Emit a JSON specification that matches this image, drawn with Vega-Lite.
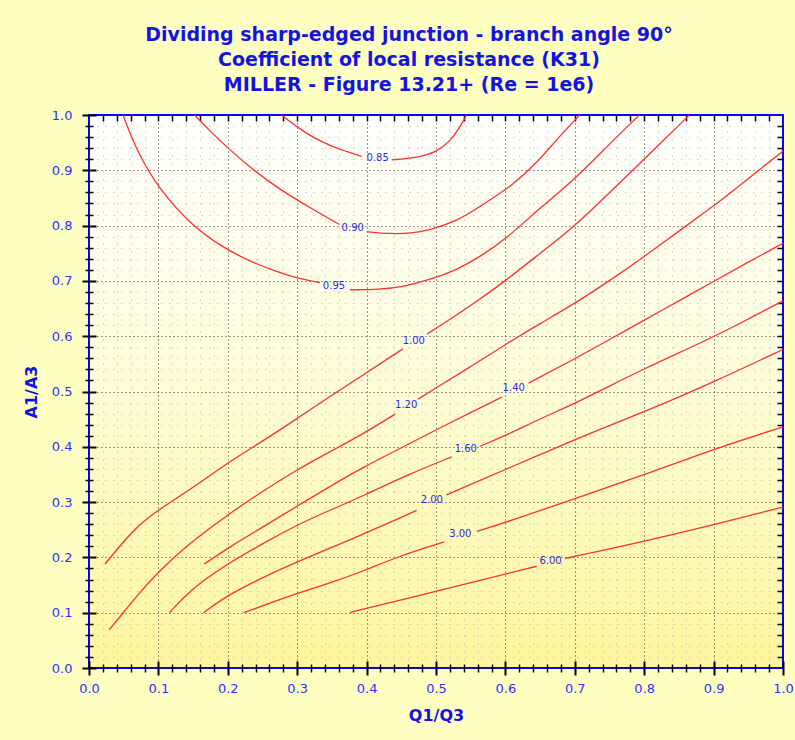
{
  "$schema": "https://vega.github.io/schema/vega-lite/v6.json",
  "autosize": "none",
  "width": 694,
  "height": 553,
  "padding": {"left": 89, "top": 115, "right": 12, "bottom": 72},
  "background": "#FFFFC2",
  "view": {
    "stroke": "#0000FF",
    "strokeWidth": 2,
    "fill": {"gradient": "linear", "x1": 0, "y1": 0, "x2": 0, "y2": 1,
      "stops": [{"offset": 0, "color": "#FFFFFF"}, {"offset": 0.5, "color": "#FFFDD6"}, {"offset": 1, "color": "#FFF59C"}]}
  },
  "title": {
    "text": ["Dividing sharp-edged junction - branch angle 90°", "Coefficient of local resistance (K31)", "MILLER - Figure 13.21+ (Re = 1e6)"],
    "font": "DejaVu Sans", "fontSize": 19, "fontWeight": "bold", "color": "#1414E0",
    "lineHeight": 25, "anchor": "middle", "dx": -27, "offset": 14
  },
  "config": {
    "axis": {
      "labelFont": "DejaVu Sans", "labelFontSize": 13, "labelColor": "#3030FF",
      "titleFont": "DejaVu Sans", "titleFontSize": 16, "titleFontWeight": "bold", "titleColor": "#1414E0",
      "tickColor": "#000000", "domain": false
    }
  },
  "datasets": {
    "lines": [
      {"s":"0.85a","x":0.277,"y":1.0},{"s":"0.85a","x":0.300,"y":0.978},{"s":"0.85a","x":0.323,"y":0.959},{"s":"0.85a","x":0.350,"y":0.943},{"s":"0.85a","x":0.371,"y":0.934},{"s":"0.85a","x":0.393,"y":0.925},
      {"s":"0.85b","x":0.436,"y":0.919},{"s":"0.85b","x":0.470,"y":0.922},{"s":"0.85b","x":0.501,"y":0.933},{"s":"0.85b","x":0.520,"y":0.952},{"s":"0.85b","x":0.533,"y":0.975},{"s":"0.85b","x":0.544,"y":1.0},
      {"s":"0.90a","x":0.152,"y":1.0},{"s":"0.90a","x":0.175,"y":0.970},{"s":"0.90a","x":0.203,"y":0.937},{"s":"0.90a","x":0.236,"y":0.901},{"s":"0.90a","x":0.275,"y":0.865},{"s":"0.90a","x":0.323,"y":0.829},{"s":"0.90a","x":0.361,"y":0.802},
      {"s":"0.90b","x":0.400,"y":0.789},{"s":"0.90b","x":0.434,"y":0.785},{"s":"0.90b","x":0.465,"y":0.786},{"s":"0.90b","x":0.491,"y":0.792},{"s":"0.90b","x":0.530,"y":0.808},{"s":"0.90b","x":0.564,"y":0.835},{"s":"0.90b","x":0.611,"y":0.873},{"s":"0.90b","x":0.650,"y":0.920},{"s":"0.90b","x":0.674,"y":0.956},{"s":"0.90b","x":0.707,"y":1.0},
      {"s":"0.95a","x":0.049,"y":1.0},{"s":"0.95a","x":0.068,"y":0.937},{"s":"0.95a","x":0.101,"y":0.865},{"s":"0.95a","x":0.150,"y":0.798},{"s":"0.95a","x":0.190,"y":0.763},{"s":"0.95a","x":0.227,"y":0.738},{"s":"0.95a","x":0.265,"y":0.719},{"s":"0.95a","x":0.299,"y":0.705},{"s":"0.95a","x":0.333,"y":0.697},
      {"s":"0.95b","x":0.376,"y":0.684},{"s":"0.95b","x":0.419,"y":0.684},{"s":"0.95b","x":0.455,"y":0.690},{"s":"0.95b","x":0.491,"y":0.702},{"s":"0.95b","x":0.530,"y":0.720},{"s":"0.95b","x":0.564,"y":0.744},{"s":"0.95b","x":0.600,"y":0.775},{"s":"0.95b","x":0.650,"y":0.832},{"s":"0.95b","x":0.700,"y":0.884},{"s":"0.95b","x":0.747,"y":0.944},{"s":"0.95b","x":0.793,"y":1.0},
      {"s":"1.00a","x":0.023,"y":0.188},{"s":"1.00a","x":0.048,"y":0.226},{"s":"1.00a","x":0.072,"y":0.259},{"s":"1.00a","x":0.100,"y":0.286},{"s":"1.00a","x":0.145,"y":0.322},{"s":"1.00a","x":0.200,"y":0.371},{"s":"1.00a","x":0.242,"y":0.404},{"s":"1.00a","x":0.276,"y":0.431},{"s":"1.00a","x":0.347,"y":0.491},{"s":"1.00a","x":0.400,"y":0.534},{"s":"1.00a","x":0.452,"y":0.577},
      {"s":"1.00b","x":0.487,"y":0.604},{"s":"1.00b","x":0.516,"y":0.627},{"s":"1.00b","x":0.560,"y":0.664},{"s":"1.00b","x":0.602,"y":0.702},{"s":"1.00b","x":0.650,"y":0.750},{"s":"1.00b","x":0.700,"y":0.799},{"s":"1.00b","x":0.747,"y":0.856},{"s":"1.00b","x":0.800,"y":0.920},{"s":"1.00b","x":0.865,"y":1.0},
      {"s":"1.20a","x":0.029,"y":0.069},{"s":"1.20a","x":0.050,"y":0.101},{"s":"1.20a","x":0.072,"y":0.135},{"s":"1.20a","x":0.100,"y":0.174},{"s":"1.20a","x":0.145,"y":0.226},{"s":"1.20a","x":0.200,"y":0.277},{"s":"1.20a","x":0.242,"y":0.313},{"s":"1.20a","x":0.300,"y":0.359},{"s":"1.20a","x":0.347,"y":0.391},{"s":"1.20a","x":0.393,"y":0.422},{"s":"1.20a","x":0.441,"y":0.459},
      {"s":"1.20b","x":0.474,"y":0.486},{"s":"1.20b","x":0.499,"y":0.506},{"s":"1.20b","x":0.550,"y":0.545},{"s":"1.20b","x":0.600,"y":0.585},{"s":"1.20b","x":0.650,"y":0.623},{"s":"1.20b","x":0.700,"y":0.659},{"s":"1.20b","x":0.752,"y":0.702},{"s":"1.20b","x":0.800,"y":0.744},{"s":"1.20b","x":0.853,"y":0.793},{"s":"1.20b","x":0.900,"y":0.835},{"s":"1.20b","x":0.949,"y":0.884},{"s":"1.20b","x":1.0,"y":0.935},
      {"s":"1.40a","x":0.166,"y":0.188},{"s":"1.40a","x":0.200,"y":0.217},{"s":"1.40a","x":0.252,"y":0.256},{"s":"1.40a","x":0.300,"y":0.293},{"s":"1.40a","x":0.339,"y":0.322},{"s":"1.40a","x":0.393,"y":0.362},{"s":"1.40a","x":0.450,"y":0.398},{"s":"1.40a","x":0.499,"y":0.430},{"s":"1.40a","x":0.550,"y":0.462},{"s":"1.40a","x":0.595,"y":0.490},
      {"s":"1.40b","x":0.633,"y":0.515},{"s":"1.40b","x":0.700,"y":0.559},{"s":"1.40b","x":0.750,"y":0.594},{"s":"1.40b","x":0.800,"y":0.629},{"s":"1.40b","x":0.850,"y":0.664},{"s":"1.40b","x":0.900,"y":0.699},{"s":"1.40b","x":0.950,"y":0.734},{"s":"1.40b","x":1.0,"y":0.768},
      {"s":"1.60a","x":0.116,"y":0.100},{"s":"1.60a","x":0.145,"y":0.141},{"s":"1.60a","x":0.200,"y":0.189},{"s":"1.60a","x":0.252,"y":0.226},{"s":"1.60a","x":0.300,"y":0.259},{"s":"1.60a","x":0.350,"y":0.287},{"s":"1.60a","x":0.393,"y":0.310},{"s":"1.60a","x":0.460,"y":0.350},{"s":"1.60a","x":0.523,"y":0.382},
      {"s":"1.60b","x":0.563,"y":0.401},{"s":"1.60b","x":0.600,"y":0.420},{"s":"1.60b","x":0.650,"y":0.451},{"s":"1.60b","x":0.700,"y":0.478},{"s":"1.60b","x":0.750,"y":0.510},{"s":"1.60b","x":0.800,"y":0.541},{"s":"1.60b","x":0.850,"y":0.570},{"s":"1.60b","x":0.900,"y":0.599},{"s":"1.60b","x":0.950,"y":0.631},{"s":"1.60b","x":1.0,"y":0.664},
      {"s":"2.00a","x":0.165,"y":0.100},{"s":"2.00a","x":0.200,"y":0.132},{"s":"2.00a","x":0.252,"y":0.165},{"s":"2.00a","x":0.300,"y":0.192},{"s":"2.00a","x":0.350,"y":0.218},{"s":"2.00a","x":0.393,"y":0.241},{"s":"2.00a","x":0.440,"y":0.267},{"s":"2.00a","x":0.472,"y":0.285},
      {"s":"2.00b","x":0.515,"y":0.313},{"s":"2.00b","x":0.550,"y":0.332},{"s":"2.00b","x":0.600,"y":0.359},{"s":"2.00b","x":0.650,"y":0.386},{"s":"2.00b","x":0.693,"y":0.409},{"s":"2.00b","x":0.766,"y":0.447},{"s":"2.00b","x":0.800,"y":0.463},{"s":"2.00b","x":0.900,"y":0.517},{"s":"2.00b","x":1.0,"y":0.576},
      {"s":"3.00a","x":0.223,"y":0.100},{"s":"3.00a","x":0.260,"y":0.117},{"s":"3.00a","x":0.300,"y":0.135},{"s":"3.00a","x":0.350,"y":0.155},{"s":"3.00a","x":0.393,"y":0.174},{"s":"3.00a","x":0.450,"y":0.204},{"s":"3.00a","x":0.512,"y":0.228},
      {"s":"3.00b","x":0.559,"y":0.247},{"s":"3.00b","x":0.600,"y":0.263},{"s":"3.00b","x":0.697,"y":0.305},{"s":"3.00b","x":0.808,"y":0.353},{"s":"3.00b","x":0.905,"y":0.398},{"s":"3.00b","x":1.0,"y":0.436},
      {"s":"6.00a","x":0.376,"y":0.100},{"s":"6.00a","x":0.393,"y":0.106},{"s":"6.00a","x":0.467,"y":0.128},{"s":"6.00a","x":0.545,"y":0.153},{"s":"6.00a","x":0.645,"y":0.184},
      {"s":"6.00b","x":0.686,"y":0.198},{"s":"6.00b","x":0.808,"y":0.231},{"s":"6.00b","x":0.928,"y":0.268},{"s":"6.00b","x":1.0,"y":0.291}
    ],
    "labels": [
      {"t":"0.85","x":0.416,"y":0.922},{"t":"0.90","x":0.380,"y":0.795},{"t":"0.95","x":0.353,"y":0.691},
      {"t":"1.00","x":0.468,"y":0.592},{"t":"1.20","x":0.457,"y":0.476},{"t":"1.40","x":0.612,"y":0.506},
      {"t":"1.60","x":0.543,"y":0.396},{"t":"2.00","x":0.494,"y":0.303},{"t":"3.00","x":0.535,"y":0.242},
      {"t":"6.00","x":0.665,"y":0.194}
    ]
  },
  "resolve": {"axis": {"x": "independent", "y": "independent"}},
  "layer": [
    {
      "data": {"name": "lines"},
      "mark": {"type": "line", "color": "#FF3030", "strokeWidth": 1.3, "interpolate": "basis"},
      "encoding": {
        "x": {"field": "x", "type": "quantitative", "scale": {"domain": [0, 1], "nice": false, "zero": false},
          "axis": {"orient": "bottom", "values": [0,0.1,0.2,0.3,0.4,0.5,0.6,0.7,0.8,0.9,1.0], "format": ".1f",
            "offset": -7, "tickSize": 14, "tickWidth": 2, "labelPadding": 7, "labelFlush": false,
            "grid": true, "gridColor": "#333333", "gridDash": [1, 3], "gridWidth": 1,
            "title": "Q1/Q3", "titlePadding": 12}},
        "y": {"field": "y", "type": "quantitative", "scale": {"domain": [0, 1], "nice": false, "zero": false},
          "axis": {"orient": "left", "values": [0,0.1,0.2,0.3,0.4,0.5,0.6,0.7,0.8,0.9,1.0], "format": ".1f",
            "offset": -7, "tickSize": 14, "tickWidth": 2, "labelPadding": 10, "labelFlush": false,
            "grid": true, "gridColor": "#333333", "gridDash": [1, 3], "gridWidth": 1,
            "title": "A1/A3", "titlePadding": 12}},
        "detail": {"field": "s", "type": "nominal"}
      }
    },
    {
      "data": {"name": "labels"},
      "mark": {"type": "text", "font": "DejaVu Sans", "fontSize": 10, "color": "#2A2AEE", "align": "center", "baseline": "middle"},
      "encoding": {
        "x": {"field": "x", "type": "quantitative",
          "axis": {"orient": "bottom", "values": [0.02,0.04,0.06,0.08,0.12,0.14,0.16,0.18,0.22,0.24,0.26,0.28,0.32,0.34,0.36,0.38,0.42,0.44,0.46,0.48,0.52,0.54,0.56,0.58,0.62,0.64,0.66,0.68,0.72,0.74,0.76,0.78,0.82,0.84,0.86,0.88,0.92,0.94,0.96,0.98],
            "offset": -4, "tickSize": 8, "tickWidth": 1.5, "labels": false,
            "grid": true, "gridColor": "#B4B4B4", "gridDash": [1, 7], "gridWidth": 1, "title": null}},
        "y": {"field": "y", "type": "quantitative",
          "axis": {"orient": "left", "values": [0.02,0.04,0.06,0.08,0.12,0.14,0.16,0.18,0.22,0.24,0.26,0.28,0.32,0.34,0.36,0.38,0.42,0.44,0.46,0.48,0.52,0.54,0.56,0.58,0.62,0.64,0.66,0.68,0.72,0.74,0.76,0.78,0.82,0.84,0.86,0.88,0.92,0.94,0.96,0.98],
            "offset": -4, "tickSize": 8, "tickWidth": 1.5, "labels": false,
            "grid": true, "gridColor": "#B4B4B4", "gridDash": [1, 7], "gridWidth": 1, "title": null}},
        "text": {"field": "t", "type": "nominal"}
      }
    },
    {
      "data": {"name": "labels"},
      "mark": {"type": "point", "opacity": 0},
      "encoding": {
        "x": {"field": "x", "type": "quantitative",
          "axis": {"orient": "top", "values": [0.02,0.04,0.06,0.08,0.1,0.12,0.14,0.16,0.18,0.2,0.22,0.24,0.26,0.28,0.3,0.32,0.34,0.36,0.38,0.4,0.42,0.44,0.46,0.48,0.5,0.52,0.54,0.56,0.58,0.6,0.62,0.64,0.66,0.68,0.7,0.72,0.74,0.76,0.78,0.8,0.82,0.84,0.86,0.88,0.9,0.92,0.94,0.96,0.98],
            "offset": -6, "tickSize": 6, "tickWidth": 1.5, "labels": false, "grid": false, "title": null}},
        "y": {"field": "y", "type": "quantitative",
          "axis": {"orient": "right", "values": [0.02,0.04,0.06,0.08,0.1,0.12,0.14,0.16,0.18,0.2,0.22,0.24,0.26,0.28,0.3,0.32,0.34,0.36,0.38,0.4,0.42,0.44,0.46,0.48,0.5,0.52,0.54,0.56,0.58,0.6,0.62,0.64,0.66,0.68,0.7,0.72,0.74,0.76,0.78,0.8,0.82,0.84,0.86,0.88,0.9,0.92,0.94,0.96,0.98],
            "offset": -6, "tickSize": 6, "tickWidth": 1.5, "labels": false, "grid": false, "title": null}}
      }
    }
  ]
}
